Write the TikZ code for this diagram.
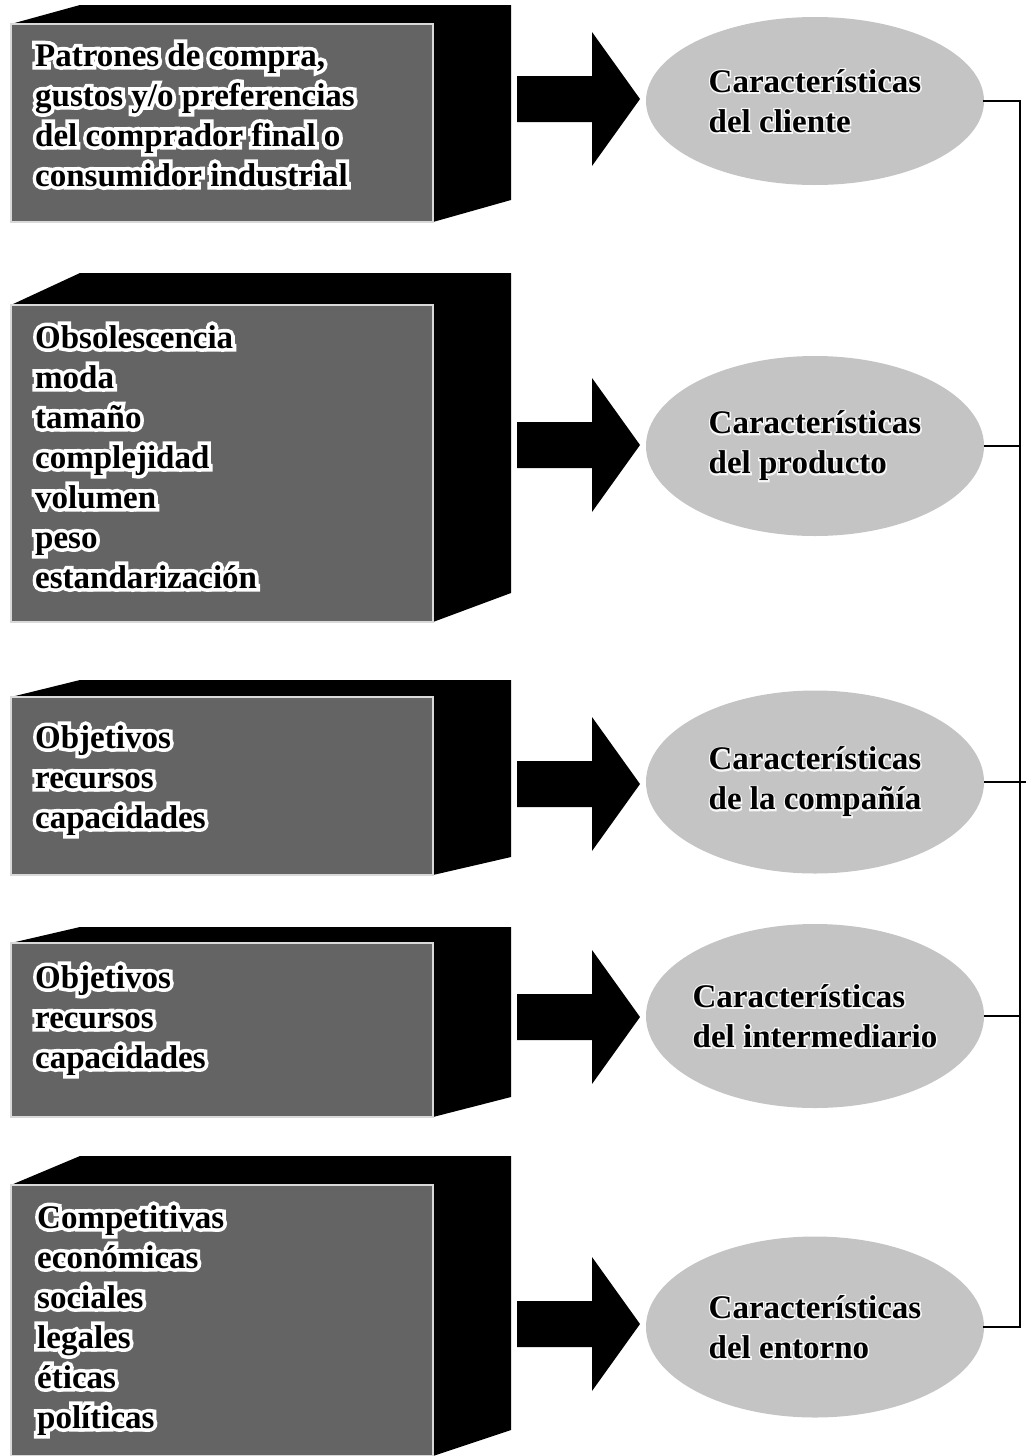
\documentclass[tikz,border=0pt]{standalone}
\usepackage{fontspec}
\setmainfont{Liberation Serif}
% emboldened faces used underneath the black words as a white halo
\newfontfamily\halofont[BoldFeatures={FakeBold=22}]{Liberation Serif}
\newfontfamily\softhalofont[BoldFeatures={FakeBold=9}]{Liberation Serif}
\usetikzlibrary{shapes.geometric}

\definecolor{boxgray}{RGB}{100,100,100}
\definecolor{ovalgray}{RGB}{196,196,196}

% solid block: #1 front top, #2 front bottom, #3 back top, #4 back bottom (right side)
\newcommand\solidblock[4]{%
  \fill[black] (11,#1) -- (80,#3) -- (511,#3) -- (511,#4) -- (433,#2) -- (433,#1) -- cycle;
  \path[frontface] (11,#1) rectangle (433,#2);
}
\newcommand\stack[1]{\begin{tabular}[t]{@{}l@{}}#1\end{tabular}}

\newcommand\txtA{\stack{Patrones de compra,\\ gustos y/o preferencias\\ del comprador final o\\ consumidor industrial}}
\newcommand\txtB{\stack{Obsolescencia\\ moda\\ tamaño\\ complejidad\\ volumen\\ peso\\ estandarización}}
\newcommand\txtC{\stack{Objetivos\\ recursos\\ capacidades}}
\newcommand\txtD{\stack{Competitivas\\ económicas\\ sociales\\ legales\\ éticas\\ políticas}}

\tikzset{
  frontface/.style={fill=boxgray, draw=white!85!black, line width=1.2pt},
  boxtext/.style={anchor=base west, inner sep=0pt, font=\bfseries\fontsize{33}{40}\selectfont},
  boxhalo/.style={boxtext, text=white, font=\halofont\bfseries\fontsize{33}{40}\selectfont},
  oval/.style={ellipse, fill=ovalgray, inner sep=0pt, minimum width=338pt, minimum height=#1},
  ovaltext/.style={align=left, inner sep=0pt, font=\bfseries\fontsize{33}{40}\selectfont},
  ovalhalo/.style={ovaltext, text=white!85!ovalgray, font=\softhalofont\bfseries\fontsize{33}{40}\selectfont},
  rail/.style={line width=1.8pt, line cap=rect},
  stub/.style={line width=1.5pt},
  blockarrow/.pic={\fill[black] (-75,-23) -- (0,-23) -- (0,-67) -- (48,0) -- (0,67) -- (0,23) -- (-75,23) -- cycle;}
}

\begin{document}
\begin{tikzpicture}[x=1pt,y=-1pt]
\useasboundingbox (0,0) rectangle (1026,1456);

% ---- solid blocks on the left ----
\solidblock{24}{222}{5}{200}
\solidblock{305}{622}{273}{593}
\solidblock{697}{875}{680}{857}
\solidblock{943}{1117}{927}{1097}
\solidblock{1185}{1456}{1156}{1430}

\node[boxhalo] (h1) at (35,66)   {\txtA};
\node[boxtext] (t1) at (35,66)   {\txtA};
\node[boxhalo] (h2) at (35,348)  {\txtB};
\node[boxtext] (t2) at (35,348)  {\txtB};
\node[boxhalo] (h3) at (35,748)  {\txtC};
\node[boxtext] (t3) at (35,748)  {\txtC};
\node[boxhalo] (h4) at (35,988)  {\txtC};
\node[boxtext] (t4) at (35,988)  {\txtC};
\node[boxhalo] (h5) at (37,1228) {\txtD};
\node[boxtext] (t5) at (37,1228) {\txtD};

% ---- block arrows ----
\pic at (592,99)   {blockarrow};
\pic at (592,445)  {blockarrow};
\pic at (592,784)  {blockarrow};
\pic at (592,1017) {blockarrow};
\pic at (592,1324) {blockarrow};

% ---- ovals ----
\node[oval=168pt] (e1) at (815,101)  {};
\node[oval=180pt] (e2) at (815,446)  {};
\node[oval=183pt] (e3) at (815,782)  {};
\node[oval=184pt] (e4) at (815,1016) {};
\node[oval=181pt] (e5) at (815,1327) {};

\foreach \e/\second in {e1/del cliente, e2/del producto, e3/de la compañía,
                        e4/del intermediario, e5/del entorno}{
  \node[ovalhalo] (\e h) at (\e.center) {Características\\ \second};
  \node[ovaltext] (\e t) at (\e.center) {Características\\ \second};
}

% ---- bracket on the right ----
\coordinate (railx) at (1020,0);
\coordinate (edge) at (1026,0);
\draw[rail] (e1.east) -- (e1.east -| railx) -- (e5.east -| railx) -- (e5.east);
\draw[stub] (e2.east) -- (e2.east -| railx);
\draw[stub] (e3.east) -- (e3.east -| edge);
\draw[stub] (e4.east) -- (e4.east -| railx);
\end{tikzpicture}
\end{document}
